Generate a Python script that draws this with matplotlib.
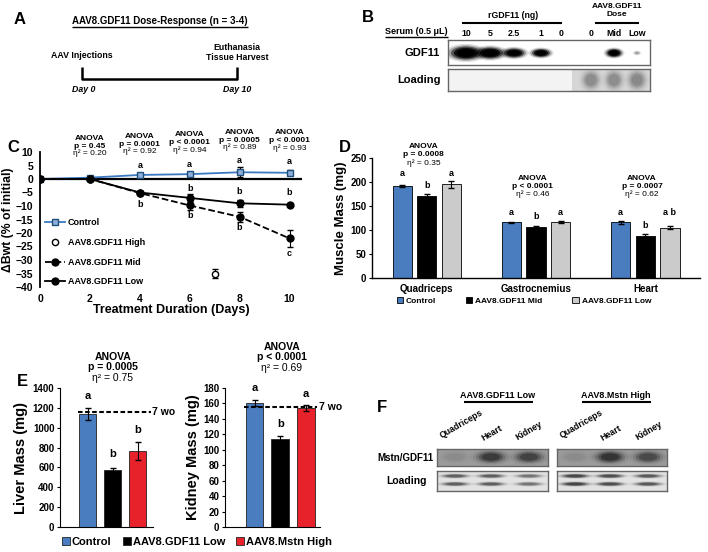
import numpy as np
import matplotlib
matplotlib.use("Agg")
import matplotlib.pyplot as plt
from matplotlib.patches import Ellipse, Rectangle, Patch
from matplotlib.lines import Line2D
from matplotlib.transforms import blended_transform_factory

plt.rcParams['font.family'] = ['Liberation Sans', 'DejaVu Sans']
plt.rcParams['font.weight'] = 'bold'
plt.rcParams['axes.labelweight'] = 'bold'

W, H = 708, 552

# === PANEL C: body weight change ===
days = [0, 2, 4, 6, 8, 10]
ctrl_bwt = [0, 0.5, 1.5, 1.8, 2.5, 2.3]
ctrl_err = [0, 0.3, 0.5, 0.6, 1.8, 1.0]
mid_bwt = [0, 0, -5.2, -9.8, -14.0, -22.0]
mid_err = [0, 0.4, 0.6, 1.5, 1.8, 3.0]
low_bwt = [0, 0, -5.0, -7.0, -9.0, -9.5]
low_err = [0, 0.4, 0.6, 1.5, 1.4, 0.6]
high_day = [7]
high_bwt = [-35]
high_err = [1.5]
c_anova_days = [2, 4, 6, 8, 10]
c_anova_p = ["p = 0.45", "p = 0.0001", "p < 0.0001", "p = 0.0005", "p < 0.0001"]
c_anova_eta = ["0.20", "0.92", "0.94", "0.89", "0.93"]
c_letter_day = [4, 6, 8, 10, 6, 8, 10, 4, 6, 8, 10]
c_letter_y = [5.1, 5.4, 6.9, 6.6, -3.6, -4.6, -5.0, -9.4, -13.5, -17.8, -27.5]
c_letter = ["a", "a", "a", "a", "b", "b", "b", "b", "b", "b", "c"]

# === PANEL D: muscle mass ===
muscles = ["Quadriceps", "Gastrocnemius", "Heart"]
d_ctrl = [192, 116, 116]
d_ctrl_err = [2, 1.5, 3]
d_mid = [170, 107, 88]
d_mid_err = [4, 2, 3]
d_low = [195, 116, 105]
d_low_err = [7, 2, 3]
d_letters = [["a", "b", "a"], ["a", "b", "a"], ["a", "b", "a b"]]
d_letter_y = [[218, 192, 218], [137, 128, 137], [137, 110, 137]]
d_anova_p = ["p = 0.0008", "p < 0.0001", "p = 0.0007"]
d_anova_eta = ["0.35", "0.46", "0.62"]

# === PANEL E: liver / kidney ===
e_groups = ["Control", "AAV8.GDF11 Low", "AAV8.Mstn High"]
liver = [1135, 575, 762]
liver_err = [60, 23, 90]
liver_letters = ["a", "b", "b"]
liver_letter_y = [1316, 735, 976]
liver_7wo = 1158
kidney = [161, 114, 154]
kidney_err = [4, 4, 3.5]
kidney_letters = ["a", "b", "a"]
kidney_letter_y = [180, 133.5, 172]
kidney_7wo = 155.5

# === PANEL B / F: blot lanes ===
b_lanes = ["10", "5", "2.5", "1", "0", "0", "Mid", "Low"]
b_signal = [1.0, 1.0, 0.95, 0.95, 0.0, 0.0, 1.0, 0.15]
b_load = [0.0, 0.0, 0.0, 0.0, 0.0, 0.55, 0.55, 0.6]
f_lanes = ["Quadriceps", "Heart", "Kidney"]
f_signal_gdf = [0.05, 0.45, 0.4]
f_signal_mstn = [0.05, 0.5, 0.35]
f_load_gdf = [0.6, 0.6, 0.45]
f_load_mstn = [0.85, 0.75, 0.65]

blue = '#4a7dc0'
red = '#e8222b'

fig = plt.figure(figsize=(W / 100, H / 100), dpi=100)


def ax_px(l, t, r, b):
    return fig.add_axes([l / W, 1 - b / H, (r - l) / W, (b - t) / H])


# ---------- C ----------
axc = ax_px(40, 152, 302, 287)
axc.set_facecolor('none')
axc.set_xlim(0, 10.5)
axc.set_ylim(-40, 10)
axc.axhline(0, color='black', lw=1.6, zorder=1)
axc.errorbar(days, ctrl_bwt, yerr=ctrl_err, color='#3a78c0', lw=1.3, marker='s', ms=4.5,
             mfc='#8fb0dc', mec='#1f4e79', mew=1, ecolor='black', elinewidth=0.8, capsize=2, zorder=3)
axc.errorbar(high_day, high_bwt, yerr=high_err, color='black', ls='none', marker='o', ms=4.5,
             mfc='white', mec='black', elinewidth=0.8, capsize=2, zorder=3)
axc.errorbar(days, mid_bwt, yerr=mid_err, color='black', ls='--', lw=1.3, marker='o', ms=5,
             elinewidth=0.8, capsize=2, zorder=4)
axc.errorbar(days, low_bwt, yerr=low_err, color='black', ls='-', lw=1.3, marker='o', ms=5,
             elinewidth=0.8, capsize=2, zorder=4)
for s in ['top', 'right', 'bottom']:
    axc.spines[s].set_visible(False)
axc.spines['left'].set_linewidth(1.3)
axc.set_yticks(range(-40, 11, 5))
axc.set_xticks(range(0, 11, 2))
axc.tick_params(axis='both', length=0, labelsize=7.5)
axc.tick_params(axis='y', pad=5)
axc.tick_params(axis='x', pad=5)
axc.set_xlabel("Treatment Duration (Days)", fontsize=9, labelpad=0)
axc.set_ylabel("ΔBwt (% of initial)", fontsize=8.8)
axc.yaxis.set_label_coords(-0.1, 0.5)
for d, y, l in zip(c_letter_day, c_letter_y, c_letter):
    axc.text(d, y, l, ha='center', va='center', fontsize=6.5)

# ---------- D ----------
axd = ax_px(372, 158, 700, 278)
axd.set_facecolor('none')
xd = np.arange(len(muscles))
bw, off = 0.175, 0.225
ek = dict(elinewidth=0.8, capsize=2, ecolor='black')
axd.bar(xd - off, d_ctrl, bw, yerr=d_ctrl_err, color=blue, edgecolor='black', lw=0.6, error_kw=ek,
        label='Control')
axd.bar(xd, d_mid, bw, yerr=d_mid_err, color='black', edgecolor='black', lw=0.6, error_kw=ek,
        label='AAV8.GDF11 Mid')
axd.bar(xd + off, d_low, bw, yerr=d_low_err, color='#cbcbcb', edgecolor='black', lw=0.6, error_kw=ek,
        label='AAV8.GDF11 Low')
axd.set_xlim(-0.5, 2.5)
axd.set_ylim(0, 250)
axd.set_yticks(range(0, 251, 50))
axd.set_xticks(xd)
axd.set_xticklabels(muscles)
for s in ['top', 'right']:
    axd.spines[s].set_visible(False)
axd.spines['left'].set_linewidth(1)
axd.spines['bottom'].set_linewidth(1)
axd.tick_params(axis='y', length=2, pad=2, labelsize=7)
axd.tick_params(axis='x', length=0, pad=4, labelsize=7)
axd.set_ylabel("Muscle Mass (mg)", fontsize=9.5)
axd.yaxis.set_label_coords(-0.075, 0.5)
for i in range(len(muscles)):
    for j, o in enumerate([-off, 0, off]):
        axd.text(i + o, d_letter_y[i][j], d_letters[i][j], ha='center', va='center', fontsize=6.5)
axd.legend(loc='upper left', bbox_to_anchor=(0.075, -0.155), ncol=3, frameon=False, fontsize=6,
           handlelength=0.75, handleheight=0.75, handletextpad=0.35, columnspacing=3.6,
           borderpad=0, borderaxespad=0)

# ---------- E ----------
axl = ax_px(60, 388, 153, 527)
axk = ax_px(225, 388, 320, 527)
cols = [blue, 'black', red]
for a, vals, errs, lets, ly, wo, top, step, lab, xl, lx in [
        (axl, liver, liver_err, liver_letters, liver_letter_y, liver_7wo, 1400, 200, "Liver Mass (mg)",
         (-1.1, 2.62), -0.34),
        (axk, kidney, kidney_err, kidney_letters, kidney_letter_y, kidney_7wo, 180, 20, "Kidney Mass (mg)",
         (-1.15, 2.55), -0.26)]:
    a.set_facecolor('none')
    xe = np.arange(len(vals))
    a.bar(xe, vals, 0.68, yerr=errs, color=cols, edgecolor='#222222', lw=0.6,
          error_kw=dict(elinewidth=0.8, capsize=2, ecolor='black'))
    a.plot([-0.4, xl[1] - 0.1], [wo, wo], color='black', ls=(0, (2.2, 1.2)), lw=1.5, zorder=5)
    a.text(xl[1] - 0.05, wo, "7 wo", ha='left', va='center', fontsize=7.5)
    for x, y, l in zip(xe, ly, lets):
        a.text(x, y, l, ha='center', va='center', fontsize=8)
    a.set_xlim(*xl)
    a.set_ylim(0, top)
    a.set_yticks(range(0, top + 1, step))
    a.set_xticks([])
    for s in ['top', 'right']:
        a.spines[s].set_visible(False)
    a.tick_params(axis='y', length=2, pad=2, labelsize=7)
    a.set_ylabel(lab, fontsize=10.5)
    a.yaxis.set_label_coords(lx, 0.5)

fig.legend(handles=[Patch(facecolor=c, edgecolor='#222222', lw=0.6) for c in cols], labels=e_groups,
           loc='center left', bbox_to_anchor=(62 / W, 1 - 542 / H), ncol=3, frameon=False, fontsize=8,
           handlelength=0.7, handleheight=0.7, handletextpad=0.2, columnspacing=1.0,
           borderpad=0, borderaxespad=0)


# ---------- blots ----------
def blot(l, t, r, b, face):
    a = ax_px(l, t, r, b)
    a.set_xlim(l, r)
    a.set_ylim(b, t)
    a.set_xticks([])
    a.set_yticks([])
    a.set_facecolor(face)
    for s in a.spines.values():
        s.set_color('#666666')
        s.set_linewidth(1)
    return a


def band(a, x, y, w, h, dark, color='black'):
    for k, al in [(1.4, 0.12), (1.2, 0.25), (1.0, 0.5), (0.8, 0.8), (0.6, 1.0)]:
        a.add_patch(Ellipse((x, y), w * k, h * k, color=color, alpha=min(1, al * dark), lw=0))


# B
b_lane_x = [466, 490, 514, 541, 561, 591, 614, 637]
b_band_w = [30, 26, 21, 18, 10, 10, 15, 7]
b_band_h = [13, 11, 9, 8, 5, 5, 8, 4]
gb = blot(448, 40, 650, 65, 'white')
for x, s, w, h in zip(b_lane_x, b_signal, b_band_w, b_band_h):
    if s > 0:
        band(gb, x, 53, w, h, s)
lb = blot(448, 69, 650, 91, '#f3f3f3')
lb.add_patch(Rectangle((572, 69), 78, 22, color='#d6d6d6', lw=0))
for x, s in zip(b_lane_x, b_load):
    if s > 0:
        band(lb, x, 80, 18, 19, s * 0.7, color='#707070')

# F
f_x1 = [455, 491, 529]
f_x2 = [575, 610, 648]
for l, r, xs, sig, load in [(437, 548, f_x1, f_signal_gdf, f_load_gdf),
                            (557, 667, f_x2, f_signal_mstn, f_load_mstn)]:
    m = blot(l, 449, r, 466, '#9c9c9c')
    for x, s in zip(xs, sig):
        band(m, x, 457, 30, 12, s * 0.7)
    ld = blot(l, 471, r, 491, '#e2e2e2')
    for x, s in zip(xs, load):
        band(ld, x, 476, 28, 4, s * 0.7, color='#333333')
        band(ld, x, 484, 28, 4, s * 0.7, color='#333333')

# ---------- overlay: text and diagrams ----------
ov = fig.add_axes([0, 0, 1, 1])
ov.set_xlim(0, W)
ov.set_ylim(H, 0)
ov.axis('off')
ov.set_autoscale_on(False)


def ovline(xs, ys, lw=1.5):
    ov.plot(xs, ys, color='black', lw=lw, solid_capstyle='butt')


# panel letters
for lab, x, y in [("A", 20, 20), ("B", 368, 17), ("C", 13, 148), ("D", 345, 147), ("E", 22, 382), ("F", 382, 407)]:
    ov.text(x, y, lab, fontsize=12, ha='center', va='center')

# A
tA = ov.text(72, 21, "AAV8.GDF11 Dose-Response (n = 3-4)", fontsize=7, ha='left', va='center')
ov.text(82, 56, "AAV Injections", fontsize=6.3, ha='center', va='center')
ov.text(237, 48, "Euthanasia", fontsize=6.3, ha='center', va='center')
ov.text(237, 57, "Tissue Harvest", fontsize=6.3, ha='center', va='center')
ovline([82, 82, 237, 237], [67, 79, 79, 67], lw=1.8)
ov.text(84, 90, "Day 0", fontsize=6.3, ha='center', va='center', style='italic')
ov.text(237, 90, "Day 10", fontsize=6.3, ha='center', va='center', style='italic')

# B
ov.text(513, 15, "rGDF11 (ng)", fontsize=6.3, ha='center', va='center')
ovline([462, 562], [23, 23])
ov.text(617, 7, "AAV8.GDF11", fontsize=6, ha='center', va='center')
ov.text(617, 15, "Dose", fontsize=6, ha='center', va='center')
ovline([595, 639], [23, 23])
tS = ov.text(385, 31, "Serum (0.5 μL)", fontsize=6.5, ha='left', va='center')
for x, l in zip(b_lane_x, b_lanes):
    ov.text(x, 34, l, fontsize=6.3, ha='center', va='center')
ov.text(422, 53, "GDF11", fontsize=8, ha='center', va='center')
ov.text(419, 80, "Loading", fontsize=8, ha='center', va='center')

# C ANOVA
tr_c = blended_transform_factory(axc.transData, ov.transData)
c_tops = [138, 136, 135, 132, 133]
for d, p, e, y in zip(c_anova_days, c_anova_p, c_anova_eta, c_tops):
    axc.text(d, y, "ANOVA", transform=tr_c, ha='center', va='center', fontsize=6, clip_on=False)
    axc.text(d, y + 8, p, transform=tr_c, ha='center', va='center', fontsize=6, clip_on=False)
    axc.text(d, y + 15.5, "η² = " + e, transform=tr_c, ha='center', va='center', fontsize=6,
             fontweight='normal', clip_on=False)
# C legend
hc = [Line2D([], [], color='#3a78c0', lw=1.3, marker='s', ms=4.5, mfc='#8fb0dc', mec='#1f4e79'),
      Line2D([], [], ls='none', marker='o', ms=4.5, mfc='white', mec='black'),
      Line2D([], [], color='black', ls='--', lw=1.3, marker='o', ms=5),
      Line2D([], [], color='black', ls='-', lw=1.3, marker='o', ms=5)]
axc.legend(hc, ["Control", "AAV8.GDF11 High", "AAV8.GDF11 Mid", "AAV8.GDF11 Low"],
           loc='upper left', bbox_to_anchor=(45, 218), bbox_transform=ov.transData, frameon=False,
           fontsize=6.5, handlelength=2.2, handletextpad=0.3, labelspacing=1.2, borderpad=0,
           borderaxespad=0)

# D ANOVA
tr_d = blended_transform_factory(axd.transData, ov.transData)
d_tops = [147, 178, 178]
for i, (p, e, y) in enumerate(zip(d_anova_p, d_anova_eta, d_tops)):
    axd.text(i - 0.03, y, "ANOVA", transform=tr_d, ha='center', va='center', fontsize=6, clip_on=False)
    axd.text(i - 0.03, y + 8, p, transform=tr_d, ha='center', va='center', fontsize=6, clip_on=False)
    axd.text(i - 0.03, y + 16, "η² = " + e, transform=tr_d, ha='center', va='center', fontsize=6,
             fontweight='normal', clip_on=False)

# E ANOVA
for a, x, y, p, e in [(axl, 113, 357, "p = 0.0005", "0.75"), (axk, 282, 347, "p < 0.0001", "0.69")]:
    ov.text(x, y, "ANOVA", ha='center', va='center', fontsize=7.5)
    ov.text(x, y + 10.5, p, ha='center', va='center', fontsize=7.5)
    ov.text(x, y + 21, "η² = " + e, ha='center', va='center', fontsize=7.5, fontweight='normal')

# F
ov.text(498, 395, "AAV8.GDF11 Low", fontsize=6.5, ha='center', va='center')
ovline([464, 533], [402, 402])
ov.text(616, 395, "AAV8.Mstn High", fontsize=6.5, ha='center', va='center')
ovline([582, 651], [402, 402])
for xs in [[443, 484, 518], [563, 603, 638]]:
    for x, l, yy in zip(xs, f_lanes, [440, 443, 442]):
        ov.text(x, yy, l, fontsize=6.3, rotation=30, rotation_mode='anchor', ha='left', va='bottom')
ov.text(434, 458, "Mstn/GDF11", fontsize=7, ha='right', va='center')
ov.text(427, 481, "Loading", fontsize=7.5, ha='right', va='center')

# underlines
fig.canvas.draw()
for t in [tA, tS]:
    bb = t.get_window_extent()
    y = H - bb.y0 + 1
    ovline([bb.x0, bb.x1], [y, y], lw=1)

fig.savefig("out.png", dpi=100)
